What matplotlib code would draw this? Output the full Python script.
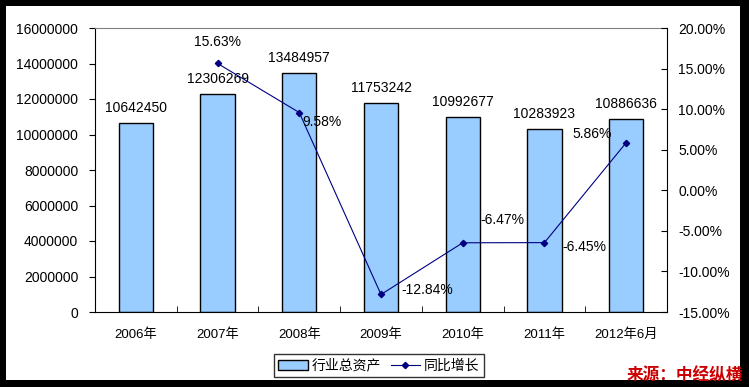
import matplotlib.pyplot as plt
from matplotlib.patches import Rectangle, Patch
from matplotlib.lines import Line2D
from matplotlib.ticker import FuncFormatter, MultipleLocator

plt.rcParams['font.family'] = ['Liberation Sans', 'Noto Sans CJK SC', 'DejaVu Sans']

years = ["2006年", "2007年", "2008年", "2009年", "2010年", "2011年", "2012年6月"]
assets = [10642450, 12306269, 13484957, 11753242, 10992677, 10283923, 10886636]
growth = [None, 15.63, 9.58, -12.84, -6.47, -6.45, 5.86]

# label offsets in pixels for the growth labels (dx, dy, ha)
growth_offsets = [None, (0, 21, "center"), (23, -9, "center"), (20, 4, "left"),
                  (18, 23, "left"), (18, -4, "left"), (-14, 9, "right")]

W, H = 749, 387
fig = plt.figure(figsize=(W / 100, H / 100), dpi=100)
fig.patch.set_facecolor("black")
fig.patches.append(Rectangle((6 / W, 7 / H), 734 / W, 374 / H, transform=fig.transFigure,
                             facecolor="white", edgecolor="none", zorder=-1))

ax = fig.add_axes([95 / W, 1 - 312 / H, 572 / W, 284 / H])
x = list(range(len(years)))
ax.bar(x, assets, width=0.42, color="#99CCFF", edgecolor="black", linewidth=1, zorder=2)
for xi, v in zip(x, assets):
    ax.annotate(str(v), (xi, v), xytext=(0, 15), textcoords="offset pixels",
                ha="center", va="center", fontsize=10)

ax.set_xlim(-0.5, len(years) - 0.5)
ax.set_ylim(0, 16000000)
ax.yaxis.set_major_locator(MultipleLocator(2000000))
ax.yaxis.set_major_formatter(FuncFormatter(lambda v, p: f"{int(v)}"))
ax.set_xticks(x)
ax.set_xticklabels(years, fontsize=9.5)
ax.set_xticks([i + 0.5 for i in x[:-1]], minor=True)
ax.tick_params(axis="x", which="major", length=0, pad=12)
ax.tick_params(axis="x", which="minor", direction="in", length=4)
ax.tick_params(axis="y", direction="out", length=4, labelsize=10, pad=8)
ax.spines["top"].set_color("#808080")
ax.spines["right"].set_visible(False)

ax2 = ax.twinx()
gx = [xi for xi, g in zip(x, growth) if g is not None]
gy = [g for g in growth if g is not None]
ax2.plot(gx, gy, color="#000080", linewidth=0.8, marker="D", markersize=3.2, zorder=3)
for xi, g, off in zip(x, growth, growth_offsets):
    if g is None:
        continue
    ax2.annotate(f"{g:.2f}%", (xi, g), xytext=off[:2], textcoords="offset pixels",
                 ha=off[2], va="center", fontsize=10)
ax2.set_ylim(-15, 20)
ax2.yaxis.set_major_locator(MultipleLocator(5))
ax2.yaxis.set_major_formatter(FuncFormatter(lambda v, p: f"{v:.2f}%"))
ax2.tick_params(axis="y", direction="in", length=4, labelsize=10, pad=8)
ax2.spines["top"].set_visible(False)
ax2.spines["left"].set_visible(False)
ax2.spines["bottom"].set_visible(False)

handles = [Patch(facecolor="#99CCFF", edgecolor="black", linewidth=1),
           Line2D([], [], color="#000080", linewidth=0.8, marker="D", markersize=3.2)]
leg = fig.legend(handles, ["行业总资产", "同比增长"], loc="center", bbox_to_anchor=(379 / W, 1 - 365.5 / H),
                 ncol=2, frameon=True, fancybox=False, edgecolor="black", fontsize=10,
                 handlelength=2.1, handletextpad=0.3, columnspacing=0.7, borderpad=0.3,
                 borderaxespad=0.2)
leg.get_frame().set_linewidth(1)

fig.text(743 / W, 1 - 375 / H, "来源：中经纵横", color="#CC0000", fontsize=12, fontweight="bold",
         style="italic", ha="right", va="center", family=["Noto Sans CJK SC", "DejaVu Sans"], zorder=5)

fig.savefig("out.png", dpi=100, facecolor=fig.get_facecolor())
